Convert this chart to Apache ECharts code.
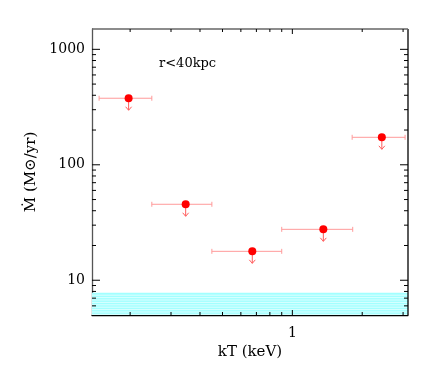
<!DOCTYPE html>
<html>
<head>
<meta charset="utf-8">
<script src="https://cdn.jsdelivr.net/npm/echarts@6/dist/echarts.min.js"></script>
<style>
  html, body { margin: 0; padding: 0; background: #fff; }
  #chart { width: 436px; height: 374px; }
</style>
</head>
<body>
<div id="chart"></div>
<script>
// temperature bins (keV) and mass deposition upper limits
var kT = [0.197, 0.347, 0.672, 1.36, 2.43];
var kTLow = [0.147, 0.248, 0.45, 0.9, 1.81];
var kTHigh = [0.248, 0.45, 0.9, 1.82, 3.06];
var mdot = [377, 45.5, 17.8, 27.6, 173];
var bandRange = [5, 7.8];

var xMajor = [1];
var xMinor = [0.2, 0.3, 0.4, 0.5, 0.6, 0.7, 0.8, 0.9, 2, 3];
var yMajor = [10, 100, 1000];
var yMinor = [6, 7, 8, 9, 20, 30, 40, 50, 60, 70, 80, 90, 200, 300, 400, 500, 600, 700, 800, 900];

var FONT = '"DejaVu Serif"';
var xRange = [0.137, 3.15];
var yRange = [5, 1500];

var chart = echarts.init(document.getElementById('chart'));

var errData = kT.map(function (v, i) { return [v, mdot[i], kTLow[i], kTHigh[i]]; });
var dots = kT.map(function (v, i) { return [v, mdot[i]]; });

function fmt(v) { return String(Math.round(v)); }

var option = {
    animation: false,
    grid: { left: 92, right: 28, top: 29, bottom: 59 },
    graphic: [{
        type: 'text', left: 159, top: 57,
        style: { text: 'r<40kpc', font: '13px "DejaVu Serif"', fill: '#000' }
    }],
    xAxis: {
        type: 'log', logBase: 10, min: xRange[0], max: xRange[1],
        axisLine: { show: true, onZero: false, lineStyle: { color: '#000', width: 1.3 } },
        axisTick: { show: false },
        axisLabel: { show: true, customValues: xMajor, margin: 11, formatter: fmt,
            fontFamily: FONT, fontSize: 14, color: '#000' },
        splitLine: { show: false },
        name: 'kT (keV)', nameLocation: 'middle', nameGap: 29,
        nameTextStyle: { fontFamily: FONT, fontSize: 15, color: '#000' }
    },
    yAxis: {
        type: 'log', logBase: 10, min: yRange[0], max: yRange[1],
        axisLine: { show: true, onZero: false, lineStyle: { color: '#555', width: 1.3 } },
        axisTick: { show: false },
        axisLabel: { show: true, customValues: yMajor, margin: 7, formatter: fmt,
            fontFamily: FONT, fontSize: 14, color: '#000' },
        splitLine: { show: false },
        name: '\u1E40 (M\u2299/yr)', nameLocation: 'middle', nameGap: 52, nameRotate: 90,
        nameTextStyle: { fontFamily: FONT, fontSize: 15, color: '#000' }
    },
    series: [
        {
            // cyan hatched band along the bottom
            type: 'custom',
            clip: true, z: 1,
            data: [[xRange[0], bandRange[0], bandRange[1]]],
            renderItem: function (params, api) {
                var cs = params.coordSys;
                var top = api.coord([api.value(0), api.value(2)])[1];
                var bot = api.coord([api.value(0), api.value(1)])[1];
                var children = [{
                    type: 'rect',
                    shape: { x: cs.x, y: top, width: cs.width, height: bot - top },
                    style: { fill: '#a2ffff' }
                }];
                for (var yy = top + 2.5; yy < bot; yy += 2.4) {
                    children.push({
                        type: 'line',
                        shape: { x1: cs.x, y1: yy, x2: cs.x + cs.width, y2: yy },
                        style: { stroke: '#dcffff', lineWidth: 1 }
                    });
                }
                return { type: 'group', children: children };
            }
        },
        {
            // frame: right and top edges plus inside ticks on all four sides
            type: 'custom',
            clip: false, z: 5, silent: true,
            data: [[xRange[0], yRange[0]]],
            renderItem: function (params, api) {
                var cs = params.coordSys;
                var x0 = cs.x, x1 = cs.x + cs.width, y0 = cs.y, y1 = cs.y + cs.height;
                var dark = { stroke: '#000', lineWidth: 1 };
                var kids = [
                    { type: 'line', shape: { x1: x1, y1: y0, x2: x1, y2: y1 }, style: { stroke: '#000', lineWidth: 1.3 } },
                    { type: 'line', shape: { x1: x0, y1: y0, x2: x1, y2: y0 }, style: { stroke: '#666', lineWidth: 1.3 } }
                ];
                function xt(vals, len) {
                    vals.forEach(function (v) {
                        var px = api.coord([v, yRange[0]])[0];
                        kids.push({ type: 'line', shape: { x1: px, y1: y1, x2: px, y2: y1 - len }, style: dark });
                        kids.push({ type: 'line', shape: { x1: px, y1: y0, x2: px, y2: y0 + len }, style: dark });
                    });
                }
                function yt(vals, len) {
                    vals.forEach(function (v) {
                        var py = api.coord([xRange[0], v])[1];
                        kids.push({ type: 'line', shape: { x1: x0, y1: py, x2: x0 + len, y2: py }, style: dark });
                        kids.push({ type: 'line', shape: { x1: x1, y1: py, x2: x1 - len, y2: py }, style: dark });
                    });
                }
                xt(xMajor, 5); xt(xMinor, 3);
                yt(yMajor, 8); yt(yMinor, 4);
                return { type: 'group', children: kids };
            }
        },
        {
            // horizontal error bars and upper-limit arrows
            type: 'custom',
            z: 3,
            data: errData,
            renderItem: function (params, api) {
                var c = api.coord([api.value(0), api.value(1)]);
                var l = api.coord([api.value(2), api.value(1)]);
                var r = api.coord([api.value(3), api.value(1)]);
                var st = { stroke: '#ff9a9a', lineWidth: 1, fill: 'none' };
                var ar = { stroke: '#ff5c5c', lineWidth: 1, fill: 'none' };
                return {
                    type: 'group',
                    children: [
                        { type: 'line', shape: { x1: l[0], y1: c[1], x2: r[0], y2: c[1] }, style: st },
                        { type: 'line', shape: { x1: l[0], y1: c[1] - 2.5, x2: l[0], y2: c[1] + 2.5 }, style: st },
                        { type: 'line', shape: { x1: r[0], y1: c[1] - 2.5, x2: r[0], y2: c[1] + 2.5 }, style: st },
                        { type: 'line', shape: { x1: c[0], y1: c[1], x2: c[0], y2: c[1] + 12 }, style: ar },
                        { type: 'polyline', shape: { points: [[c[0] - 3, c[1] + 8.5], [c[0], c[1] + 12], [c[0] + 3, c[1] + 8.5]] }, style: ar }
                    ]
                };
            }
        },
        {
            type: 'scatter',
            z: 4,
            symbol: 'circle', symbolSize: 8,
            itemStyle: { color: '#ff0000', opacity: 1 },
            data: dots
        }
    ]
};
chart.setOption(option);
</script>
</body>
</html>
